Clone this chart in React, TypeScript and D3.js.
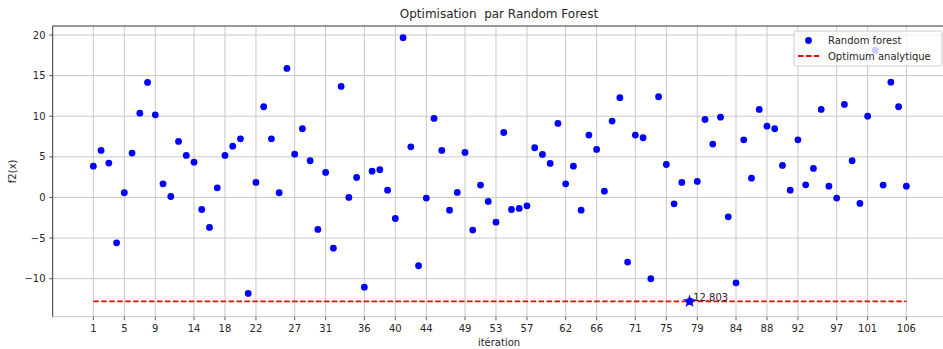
import React from "react";
import * as d3 from "d3";

// f2(x) value found at each iteration of the random-forest optimiser
const values: number[] = [
  3.85, 5.79, 4.23, -5.58, 0.58, 5.46, 10.38, 14.16, 10.18, 1.68,
  0.12, 6.9, 5.17, 4.35, -1.48, -3.69, 1.19, 5.17, 6.32, 7.22,
  -11.82, 1.85, 11.17, 7.22, 0.58, 15.89, 5.33, 8.46, 4.52, -3.94,
  3.08, -6.24, 13.67, 0.0, 2.46, -11.04, 3.24, 3.41, 0.9, -2.59,
  19.67, 6.24, -8.41, -0.08, 9.73, 5.79, -1.56, 0.62, 5.54, -4.02,
  1.52, -0.49, -3.04, 8.0, -1.48, -1.35, -1.03, 6.12, 5.3, 4.19,
  9.11, 1.68, 3.85, -1.56, 7.68, 5.91, 0.78, 9.4, 12.28, -7.96,
  7.68, 7.35, -10.01, 12.4, 4.06, -0.78, 1.85, -12.803, 1.97, 9.6,
  6.57, 9.89, -2.38, -10.51, 7.1, 2.38, 10.84, 8.78, 8.46, 3.94,
  0.9, 7.1, 1.56, 3.57, 10.84, 1.39, -0.08, 11.45, 4.52, -0.74,
  10.01, 18.1, 1.52, 14.2, 11.17, 1.39,
];
const iterations: number[] = values.map((_, i) => i + 1);

// best point and analytic optimum
const bestIteration = 78;
const bestValue = -12.803;
const analyticOptimum = -12.803;

const xTicks: number[] = [1, 5, 9, 14, 18, 22, 27, 31, 36, 40, 44, 49, 53, 57, 62, 66, 71, 75, 79, 84, 88, 92, 97, 101, 106];
const yTicks: number[] = [-10, -5, 0, 5, 10, 15, 20];

const title = "Optimisation  par Random Forest";
const xLabel = "itération";
const yLabel = "f2(x)";
const legendLabels = ["Random forest", "Optimum analytique"];

const W = 943;
const H = 349;
const left = 52.7;
const right = 947;
const top = 26;
const bottom = 316.7;
const FONT = "'DejaVu Sans', sans-serif";
const TEXT = "#262626";

export default function App() {
  const x = d3.scaleLinear().domain([-4.25, 111.25]).range([left, right]);
  const y = d3.scaleLinear().domain([-14.68, 21.11]).range([bottom, top]);
  const fmtY = (v: number) => (v < 0 ? "\u2212" + Math.abs(v) : String(v));
  const star = d3.symbol().type(d3.symbolStar).size(55)() as string;

  const legX = 794;
  const legY = 31;

  return (
    <svg
      width={W}
      height={H}
      style={{ position: "absolute", left: 0, top: 0, background: "#fff" }}
      fontFamily={FONT}
    >
      <rect x={0} y={0} width={W} height={H} fill="#fff" />
      <defs>
        <clipPath id="plot">
          <rect x={left} y={top} width={right - left} height={bottom - top} />
        </clipPath>
      </defs>

      {/* grid */}
      <g stroke="#c8c8c8" strokeWidth={1}>
        {xTicks.map((t) => (
          <line key={"gx" + t} x1={x(t)} x2={x(t)} y1={top} y2={bottom} />
        ))}
        {yTicks.map((t) => (
          <line key={"gy" + t} x1={left} x2={W} y1={y(t)} y2={y(t)} />
        ))}
      </g>

      {/* spines */}
      <line x1={left} x2={W} y1={bottom} y2={bottom} stroke="#c8c8c8" strokeWidth={1} />
      <line x1={left} x2={W} y1={top} y2={top} stroke="#333" strokeWidth={1} />
      <line x1={left} x2={left} y1={top} y2={bottom} stroke="#333" strokeWidth={1} />

      {/* ticks and tick labels */}
      <g fontSize={10} fill={TEXT}>
        {xTicks.map((t) => (
          <g key={"tx" + t}>
            <line x1={x(t)} x2={x(t)} y1={bottom} y2={bottom + 3.5} stroke="#333" strokeWidth={0.8} />
            <text x={x(t)} y={332} textAnchor="middle">{t}</text>
          </g>
        ))}
        {yTicks.map((t) => (
          <g key={"ty" + t}>
            <line x1={left - 3.5} x2={left} y1={y(t)} y2={y(t)} stroke="#333" strokeWidth={0.8} />
            <text x={45.5} y={y(t)} dy="0.35em" textAnchor="end">{fmtY(t)}</text>
          </g>
        ))}
      </g>

      <g clipPath="url(#plot)">
        {/* analytic optimum */}
        <line
          x1={x(iterations[0])}
          x2={x(iterations[iterations.length - 1])}
          y1={y(analyticOptimum)}
          y2={y(analyticOptimum)}
          stroke="#ff0000"
          strokeWidth={1.8}
          strokeDasharray="5.55 2.4"
        />
        {/* random-forest evaluations */}
        {values.map((v, i) => (
          <circle key={"p" + i} cx={x(iterations[i])} cy={y(v)} r={3.4} fill="#0000ff" />
        ))}
        {/* best value annotation */}
        <text x={x(bestIteration)} y={y(bestValue)} fontSize={10} fill={TEXT}>
          {bestValue.toFixed(3)}
        </text>
        <path d={star} transform={`translate(${x(bestIteration)},${y(bestValue)})`} fill="#0000ff" />
      </g>

      {/* legend */}
      <g>
        <rect x={legX} y={legY} width={148} height={35} rx={2} fill="#fff" fillOpacity={0.8} stroke="#cccccc" strokeWidth={1} />
        <circle cx={808.5} cy={40.5} r={3.4} fill="#0000ff" />
        <line x1={798} x2={819} y1={56} y2={56} stroke="#ff0000" strokeWidth={1.8} strokeDasharray="5.55 2.4" />
        <text x={828} y={40.5} dy="0.35em" fontSize={10} fill={TEXT}>{legendLabels[0]}</text>
        <text x={828} y={56} dy="0.35em" fontSize={10} fill={TEXT}>{legendLabels[1]}</text>
      </g>

      {/* titles */}
      <text x={499} y={18} textAnchor="middle" fontSize={12} fill={TEXT} style={{ whiteSpace: "pre" }}>{title}</text>
      <text x={499} y={346} textAnchor="middle" fontSize={10} fill={TEXT}>{xLabel}</text>
      <text transform={`translate(16,${(top + bottom) / 2}) rotate(-90)`} textAnchor="middle" fontSize={10} fill={TEXT}>{yLabel}</text>
    </svg>
  );
}
